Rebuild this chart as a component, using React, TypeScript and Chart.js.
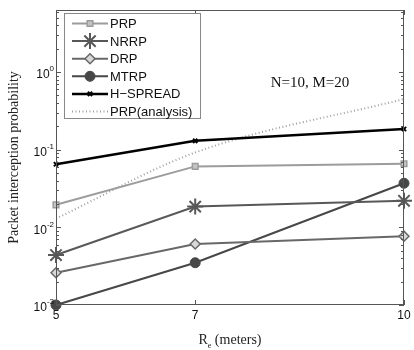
import React, { useEffect, useRef } from "react";
import { Chart, registerables } from "chart.js";
import { drawPoint } from "chart.js/helpers";

Chart.register(...registerables);

// ---- data ----
const xValues = [5, 7, 10];
const xTickValues = [5, 7, 10];
const prpValues = [0.0195, 0.061, 0.066];
const nrrpValues = [0.0044, 0.0185, 0.022];
const drpValues = [0.0026, 0.0061, 0.0077];
const mtrpValues = [0.001, 0.0035, 0.037];
const hspreadValues = [0.065, 0.13, 0.185];
const prpAnalysisValues = [0.013, 0.092, 0.45];
const yMajorTicks = [0.001, 0.01, 0.1, 1];
const yMajorExponents = ["-3", "-2", "-1", "0"];
const seriesNames = ["PRP", "NRRP", "DRP", "MTRP", "H\u2212SPREAD", "PRP(analysis)"];
const annotationText = "N=10, M=20";
const yTitle = "Packet interception probability";

const Y_MIN = 0.001;
const Y_MAX = 6.3;

function pts(vals: number[]) {
  return xValues.map((x, i) => ({ x, y: vals[i] }));
}

const SANS = "'Liberation Sans', Arial, sans-serif";
const SERIF = "'Liberation Serif', 'Times New Roman', serif";

const decorPlugin = {
  id: "decor",
  afterDraw(chart: any) {
    const ctx = chart.ctx;
    const ca = chart.chartArea;
    const xs = chart.scales.x;
    const ys = chart.scales.y;
    ctx.save();
    // box
    ctx.strokeStyle = "#555";
    ctx.lineWidth = 1;
    ctx.strokeRect(Math.round(ca.left) + 0.5, Math.round(ca.top) + 0.5, Math.round(ca.right - ca.left) - 1, Math.round(ca.bottom - ca.top) - 1);

    // y ticks (major + minor), inward, both sides
    const yTicks: { v: number; major: boolean }[] = [];
    for (let d = -3; d <= 0; d++) {
      for (let m = 1; m <= 9; m++) {
        const v = m * Math.pow(10, d);
        if (v >= Y_MIN && v <= Y_MAX) yTicks.push({ v, major: m === 1 });
      }
    }
    ctx.beginPath();
    for (const t of yTicks) {
      const py = Math.round(ys.getPixelForValue(t.v)) + 0.5;
      const len = t.major ? 5 : 3;
      ctx.moveTo(ca.left, py);
      ctx.lineTo(ca.left + len, py);
      ctx.moveTo(ca.right, py);
      ctx.lineTo(ca.right - len, py);
    }
    for (const v of xTickValues) {
      const px = Math.round(xs.getPixelForValue(v)) + 0.5;
      ctx.moveTo(px, ca.bottom);
      ctx.lineTo(px, ca.bottom - 5);
      ctx.moveTo(px, ca.top);
      ctx.lineTo(px, ca.top + 5);
    }
    ctx.stroke();

    // y tick labels with superscript
    ctx.fillStyle = "#111";
    yMajorTicks.forEach((v, i) => {
      const py = ys.getPixelForValue(v);
      const exp = yMajorExponents[i];
      ctx.font = `8px ${SANS}`;
      const ew = ctx.measureText(exp).width;
      ctx.font = `12px ${SANS}`;
      const bw = ctx.measureText("10").width;
      const right = ca.left - 2;
      ctx.textBaseline = "middle";
      ctx.textAlign = "left";
      ctx.fillText("10", right - ew - bw, py + 3);
      ctx.font = `8px ${SANS}`;
      ctx.fillText(exp, right - ew, py - 3);
    });

    // y title
    ctx.save();
    ctx.translate(14, (ca.top + ca.bottom) / 2);
    ctx.rotate(-Math.PI / 2);
    ctx.font = `14px ${SERIF}`;
    ctx.textAlign = "center";
    ctx.textBaseline = "middle";
    ctx.fillStyle = "#222";
    ctx.fillText(yTitle, 0, 0);
    ctx.restore();

    // x title: R_e (meters)
    ctx.font = `14px ${SERIF}`;
    ctx.fillStyle = "#222";
    ctx.textBaseline = "alphabetic";
    ctx.textAlign = "left";
    const rW = ctx.measureText("R").width;
    const restW = ctx.measureText(" (meters)").width;
    ctx.font = `8px ${SERIF}`;
    const eW = ctx.measureText("e").width;
    const total = rW + eW + restW;
    const cx = (ca.left + ca.right) / 2;
    let tx = cx - total / 2;
    const base = ca.bottom + 39;
    ctx.font = `14px ${SERIF}`;
    ctx.fillText("R", tx, base);
    tx += rW;
    ctx.font = `8px ${SERIF}`;
    ctx.fillText("e", tx, base + 4);
    tx += eW;
    ctx.font = `14px ${SERIF}`;
    ctx.fillText(" (meters)", tx, base);

    // annotation
    ctx.font = `15px ${SERIF}`;
    ctx.textAlign = "center";
    ctx.textBaseline = "middle";
    ctx.fillStyle = "#111";
    ctx.fillText(annotationText, xs.getPixelForValue(8.65), ys.getPixelForValue(0.72));

    // legend
    const lx0 = 64, ly0 = 13, lx1 = 201, ly1 = 119;
    ctx.fillStyle = "#fff";
    ctx.fillRect(lx0, ly0, lx1 - lx0, ly1 - ly0);
    ctx.strokeStyle = "#888";
    ctx.lineWidth = 1;
    ctx.strokeRect(lx0 + 0.5, ly0 + 0.5, lx1 - lx0 - 1, ly1 - ly0 - 1);
    chart.data.datasets.forEach((ds: any, i: number) => {
      const ry = 23.5 + i * 17.6;
      ctx.save();
      ctx.strokeStyle = ds.borderColor;
      ctx.lineWidth = ds.borderWidth;
      ctx.setLineDash(ds.borderDash || []);
      ctx.beginPath();
      ctx.moveTo(72, ry);
      ctx.lineTo(108, ry);
      ctx.stroke();
      ctx.setLineDash([]);
      if (ds.pointRadius > 0) {
        ctx.fillStyle = ds.pointBackgroundColor;
        ctx.strokeStyle = ds.pointBorderColor;
        ctx.lineWidth = ds.pointBorderWidth;
        drawPoint(ctx, { pointStyle: ds.pointStyle, radius: ds.pointRadius, borderWidth: ds.pointBorderWidth, rotation: 0 }, 90, ry);
      }
      ctx.restore();
      ctx.font = `13px ${SANS}`;
      ctx.fillStyle = "#111";
      ctx.textAlign = "left";
      ctx.textBaseline = "middle";
      ctx.fillText(ds.label, 110, ry + 1);
    });
    ctx.restore();
  },
};

function mk(label: string, vals: number[], color: string, style: any, radius: number, bg: string, pbw: number, bw: number) {
  return {
    label,
    data: pts(vals),
    borderColor: color,
    borderWidth: bw,
    pointStyle: style,
    pointRadius: radius,
    pointBackgroundColor: bg,
    pointBorderColor: color,
    pointBorderWidth: pbw,
    tension: 0,
    fill: false,
    clip: false,
  };
}

export default function App() {
  const ref = useRef<HTMLCanvasElement | null>(null);
  useEffect(() => {
    document.body.style.margin = "0";
    const canvas = ref.current!;
    const chart = new Chart(canvas, {
      type: "line",
      data: {
        datasets: [
          mk(seriesNames[0], prpValues, "#9c9c9c", "rect", 4, "#c4c4c4", 1.5, 2),
          mk(seriesNames[1], nrrpValues, "#585858", "star", 8, "#585858", 2, 2),
          mk(seriesNames[2], drpValues, "#686868", "rectRot", 5, "#d8d8d8", 1.5, 2),
          mk(seriesNames[3], mtrpValues, "#474747", "circle", 5, "#474747", 1, 2),
          mk(seriesNames[4], hspreadValues, "#000000", "crossRot", 3, "#000000", 2, 2.5),
          {
            label: seriesNames[5],
            data: pts(prpAnalysisValues),
            borderColor: "#a0a0a0",
            borderWidth: 2,
            borderDash: [1, 2.5],
            pointRadius: 0,
            pointStyle: "circle",
            pointBackgroundColor: "#a0a0a0",
            pointBorderColor: "#a0a0a0",
            pointBorderWidth: 0,
            cubicInterpolationMode: "monotone",
            fill: false,
          } as any,
        ],
      },
      options: {
        animation: false,
        responsive: false,
        maintainAspectRatio: false,
        layout: { padding: { top: 5, right: 7, left: 0, bottom: 0 } },
        plugins: { legend: { display: false }, tooltip: { enabled: false } },
        scales: {
          x: {
            type: "linear",
            min: 5,
            max: 10,
            grid: { display: false, drawTicks: false },
            border: { display: false },
            afterBuildTicks: (s: any) => {
              s.ticks = xTickValues.map((v) => ({ value: v }));
            },
            afterFit: (s: any) => {
              s.height = 45;
            },
            ticks: {
              padding: 3,
              color: "#111",
              font: { family: SANS, size: 12 },
              callback: (v: any) => String(v),
              maxRotation: 0,
              autoSkip: false,
            },
          },
          y: {
            type: "logarithmic",
            min: Y_MIN,
            max: Y_MAX,
            grid: { display: false, drawTicks: false },
            border: { display: false },
            ticks: { display: false },
            afterFit: (s: any) => {
              s.width = 56;
            },
          },
        },
      },
      plugins: [decorPlugin],
    });
    return () => chart.destroy();
  }, []);
  return (
    <div style={{ width: 414, height: 350, background: "#fff" }}>
      <canvas ref={ref} width={414} height={350} />
    </div>
  );
}
